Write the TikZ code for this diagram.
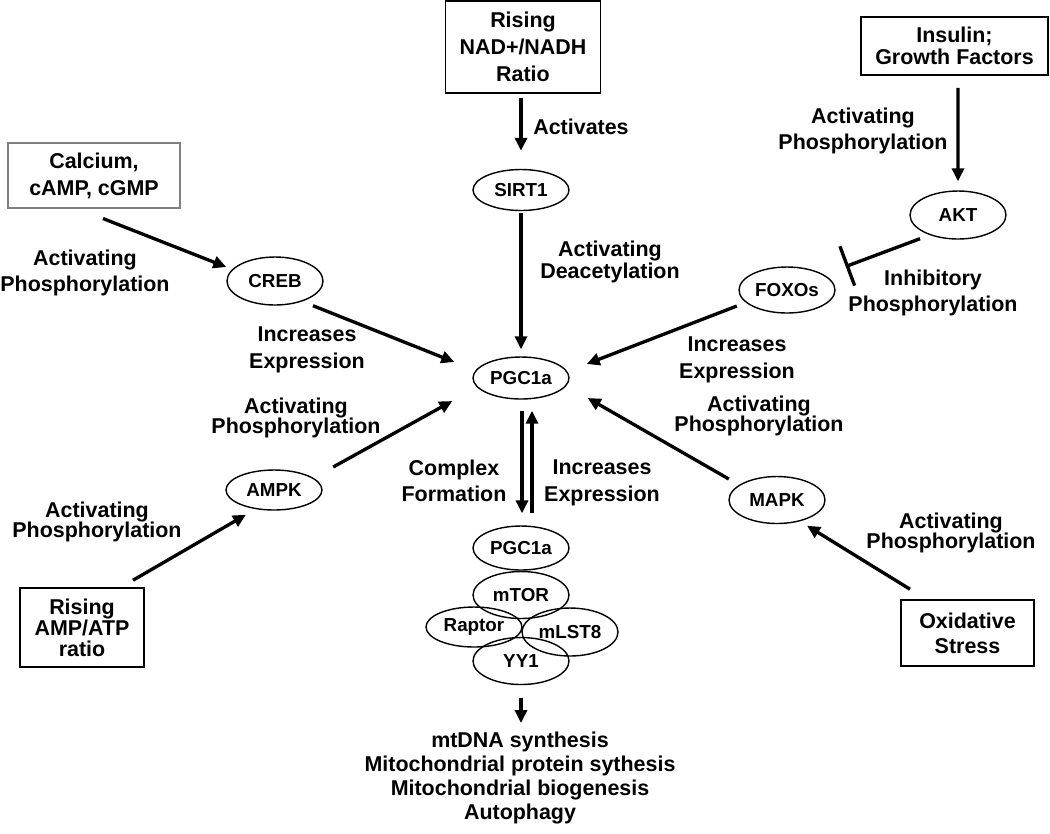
\documentclass[tikz,border=0pt]{standalone}
\usepackage{fontspec}
\setmainfont{Liberation Sans}
\usetikzlibrary{shapes.geometric,arrows.meta,calc}

\begin{document}
\begin{tikzpicture}[x=0.02cm, y=-0.02cm,
  box/.style={draw, line width=0.9pt, inner sep=0pt, align=center, font=\fontsize{12.2}{#1}\selectfont\bfseries},
  box/.default=15.3,
  prot/.style={ellipse, draw, line width=0.8pt, inner sep=0pt, minimum width=1.92cm, minimum height=0.9cm, font=\fontsize{10.7}{12}\selectfont\bfseries},
  lbl/.style={inner sep=0pt, align=center, font=\fontsize{12.2}{#1}\selectfont\bfseries},
  lbl/.default=15.1,
  arr/.style={line width=1.9pt, -{Triangle[length=0.26cm, width=0.24cm]}},
  inh/.style={line width=1.9pt, -{Bar[width=0.84cm]}}]
\useasboundingbox (0,0) rectangle (1050,833);

% upstream signals
\node[box, minimum width=3.1cm, minimum height=1.84cm] (nad) at (523,47) {Rising\\NAD+/NADH\\Ratio};
\node[box=12.5, minimum width=3.74cm, minimum height=1.16cm] (ins) at (954.5,46) {Insulin;\\Growth Factors};
\node[box, draw=gray, line width=0.6pt, minimum width=3.44cm, minimum height=1.3cm] (calc) at (94,175.5) {Calcium,\\cAMP, cGMP};
\node[box=11.9, minimum width=2.48cm, minimum height=1.58cm] (amp) at (82,627.5) {Rising\\AMP/ATP\\ratio};
\node[box=14.2, minimum width=2.66cm, minimum height=1.32cm] (oxi) at (967.5,633) {Oxidative\\Stress};

% kinases and factors
\node[prot, minimum height=0.82cm] (sirt) at (521,190) {SIRT1};
\node[prot, minimum height=0.96cm] (akt) at (958,215) {AKT};
\node[prot, minimum height=0.96cm] (creb) at (275,281) {CREB};
\node[prot, minimum height=0.92cm] (foxo) at (787,290) {FOXOs};
\node[prot, minimum height=0.84cm] (pgc) at (521,378) {PGC1a};
\node[prot, minimum height=0.8cm] (ampk) at (274,490) {AMPK};
\node[prot, minimum height=0.94cm] (mapk) at (777,500) {MAPK};

% complex
\node[prot, minimum height=0.88cm] (cpgc) at (521,548) {PGC1a};
\node[prot, minimum height=0.94cm] (mtor) at (521,595) {mTOR};
\node[prot, minimum height=0.8cm] (raptor) at (474,627) {Raptor};
\node[prot, minimum height=0.96cm] (mlst) at (570,632) {mLST8};
\node[prot, minimum height=0.94cm] (yy1) at (521,661) {YY1};

% labels
\node[lbl] (lact) at (581,127) {Activates};
\node[lbl=13] (ldeac) at (610,262) {Activating\\Deacetylation};
\node[lbl] (lins) at (863,131) {Activating\\Phosphorylation};
\node[lbl] (linh) at (933,293) {Inhibitory\\Phosphorylation};
\node[lbl] (lcalc) at (85,273) {Activating\\Phosphorylation};
\node[lbl] (lcreb) at (307,350) {Increases\\Expression};
\node[lbl] (lfoxo) at (737,360) {Increases\\Expression};
\node[lbl=11.7] (lampk) at (296,418) {Activating\\Phosphorylation};
\node[lbl=11.7] (lmapk) at (759,416) {Activating\\Phosphorylation};
\node[lbl] (lcplx) at (454,481) {Complex\\Formation};
\node[lbl] (lexpr) at (602,483) {Increases\\Expression};
\node[lbl=11.7] (lamp) at (97,522) {Activating\\Phosphorylation};
\node[lbl=11.7] (loxi) at (951,533) {Activating\\Phosphorylation};
\node[lbl=13.5] (out) at (520,778) {mtDNA synthesis\\Mitochondrial protein sythesis\\Mitochondrial biogenesis\\Autophagy};

% connectors
\draw[arr] ($(nad.south)+(-2,4)$) -- ($(sirt.north)+(0,-18)$);
\draw[arr] ($(sirt.south)+(0,2)$) -- ($(pgc.north)+(0,-7)$);
\draw[arr] ($(ins.south)+(3.5,12)$) -- ($(akt.north)+(0,-9)$);
\draw[inh] ($(akt.south)+(-38,-1)$) -- ($(foxo.east)+(10,-23.5)$);
\draw[arr] ($(calc.south)+(9,10)$) -- ($(creb.west)+(0,-14)$);
\draw[arr] ($(creb.south)+(38,0)$) -- ($(pgc.west)+(-18,-16)$);
\draw[arr] ($(foxo.west)+(-1.5,16)$) -- ($(pgc.east)+(17,-14)$);
\draw[arr] ($(ampk.east)+(10.5,-23)$) -- ($(pgc.west)+(-20,23)$);
\draw[arr] ($(mapk.west)+(0.5,-21)$) -- ($(pgc.east)+(18,20)$);
\draw[arr] ($(amp.north)+(51,-7)$) -- ($(ampk.south)+(-28,4)$);
\draw[arr] ($(oxi.north)+(-57.5,-10)$) -- ($(mapk.south)+(30,1.5)$);
\draw[arr] ($(pgc.south)+(1,11)$) -- ($(cpgc.north)+(1,-12)$);
\draw[arr] ($(cpgc.north)+(11,-12)$) -- ($(pgc.south)+(11,11)$);
\draw[arr] ($(yy1.south)+(0,12.5)$) -- ($(out.north)+(1,-9)$);
\end{tikzpicture}
\end{document}
